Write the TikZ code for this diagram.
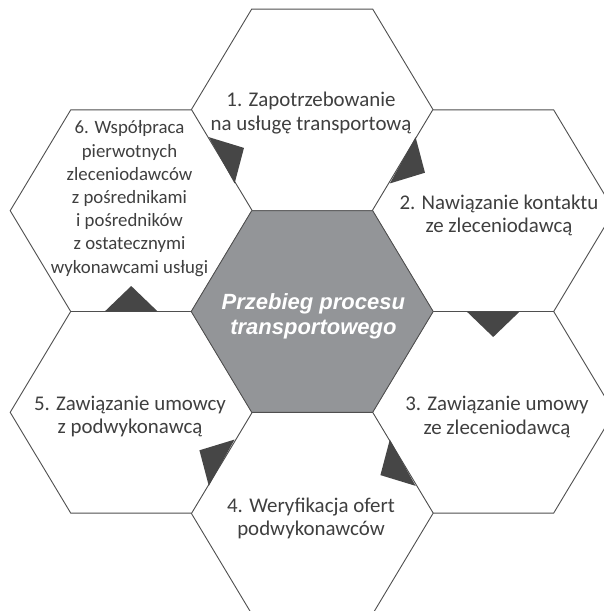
\documentclass[tikz,border=0pt]{standalone}
\usepackage{fontspec}
\setmainfont{Carlito}
\newfontfamily\centerfont{Liberation Sans}
\usetikzlibrary{calc}
\definecolor{edgegray}{HTML}{4F4F4F}
\definecolor{textgray}{HTML}{3F3F3F}
\definecolor{centergray}{HTML}{939598}
\definecolor{flowgray}{HTML}{464646}
\begin{document}
\begin{tikzpicture}[x=1pt,y=-1pt,
  hexagon/.style={draw=edgegray, line width=0.9pt, line join=miter},
  steplabel/.style={text=textgray, font=\fontsize{20.9}{23.6}\selectfont, align=center, inner sep=0pt},
  smalllabel/.style={steplabel, font=\fontsize{18.8}{23.2}\selectfont},
  centerlabel/.style={text=white, font=\centerfont\bfseries\itshape\fontsize{22}{24.8}\selectfont, align=center, inner sep=0pt},
  flow/.style={fill=flowgray, draw=none}]
\useasboundingbox (0,0) rectangle (604,611);
\clip (0,0) rectangle (604,611);
\coordinate (c0) at (312.2,311.5);
\coordinate (c1) at (312.2,109.9);
\coordinate (c2) at (493.2,210.7);
\coordinate (c3) at (493.2,412.3);
\coordinate (c4) at (312.2,513.1);
\coordinate (c5) at (131.2,412.3);
\coordinate (c6) at (131.2,210.7);
% outer hexagons
\foreach \h in {c1,c2,c3,c4,c5,c6}
  \draw[hexagon, fill=white] (\h) ++(-60.5,-100.8) -- ++(121,0) -- ++(60.5,100.8)
    -- ++(-60.5,100.8) -- ++(-121,0) -- ++(-60.5,-100.8) -- cycle;
% central hexagon
\draw[hexagon, fill=centergray] (c0) ++(-60.5,-100.8) -- ++(121,0) -- ++(60.5,100.8)
    -- ++(-60.5,100.8) -- ++(-121,0) -- ++(-60.5,-100.8) -- cycle;
% flow triangles
\foreach \a/\b in {c1/c2, c2/c3, c3/c4, c4/c5, c5/c6, c6/c1}{
  \coordinate (m) at ($(\a)!0.5!(\b)$);
  \fill[flow] ($(m)!26.5pt!90:(\b)$) -- ($(m)!25.5pt!(\b)$) -- ($(m)!26.5pt!-90:(\b)$) -- cycle;
}
% labels
\node[steplabel] (t1) at (311,113) {1. Zapotrzebowanie\\na usługę transportową};
\node[steplabel] (t2) at (499,215.3) {2. Nawiązanie kontaktu\\ze zleceniodawcą};
\node[steplabel] (t3) at (497,417) {3. Zawiązanie umowy\\ze zleceniodawcą};
\node[steplabel] (t4) at (311,518.3) {4. Weryfikacja ofert\\podwykonawców};
\node[steplabel] (t5) at (130,416.5) {5. Zawiązanie umowcy\\z podwykonawcą};
\node[smalllabel] (t6) at (129.5,198.5) {6. Współpraca\\pierwotnych\\zleceniodawców\\z pośrednikami\\i pośredników\\z ostatecznymi\\wykonawcami usługi};
\node[centerlabel] (t0) at (313.4,316.5) {Przebieg procesu\\transportowego};
\end{tikzpicture}
\end{document}
